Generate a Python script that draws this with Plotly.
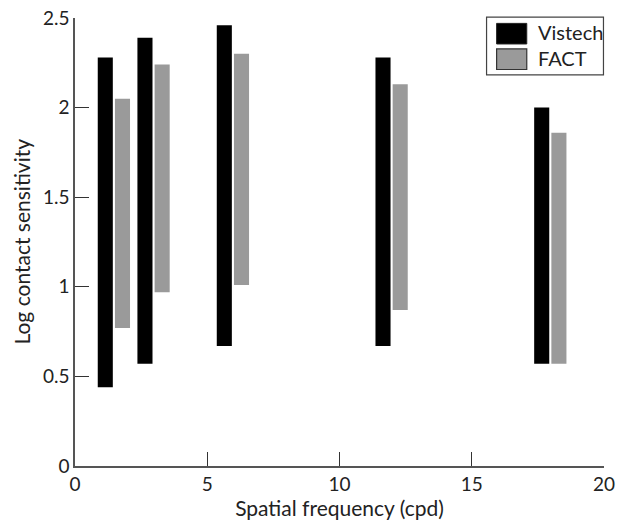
import plotly.graph_objects as go

freq = [1.5, 3, 6, 12, 18]
vistech_low = [0.44, 0.57, 0.67, 0.67, 0.57]
vistech_high = [2.28, 2.39, 2.46, 2.28, 2.00]
fact_low = [0.77, 0.97, 1.01, 0.87, 0.57]
fact_high = [2.05, 2.24, 2.30, 2.13, 1.86]

x_ticks = [0, 5, 10, 15, 20]
y_ticks = [0, 0.5, 1, 1.5, 2, 2.5]
y_tick_labels = ["0", "0.5", "1", "1.5", "2", "2.5"]

series_names = ["Vistech", "FACT"]
series_colors = ["black", "#9a9a9a"]

FONT = "Lato, DejaVu Sans, sans-serif"

fig = go.Figure()
fig.add_trace(go.Bar(
    name=series_names[0], x=freq,
    y=[h - l for h, l in zip(vistech_high, vistech_low)],
    base=vistech_low, width=0.57, offset=-0.64,
    marker=dict(color=series_colors[0], line=dict(width=0)),
    showlegend=False,
))
fig.add_trace(go.Bar(
    name=series_names[1], x=freq,
    y=[h - l for h, l in zip(fact_high, fact_low)],
    base=fact_low, width=0.57, offset=0.01,
    marker=dict(color=series_colors[1], line=dict(width=0)),
    showlegend=False,
))

# custom legend (large swatches like the reference)
shapes = [
    dict(type="rect", xref="paper", yref="paper", x0=0.778, x1=0.999,
         y0=0.873, y1=1.002, line=dict(color="#444", width=1.2),
         fillcolor="white", layer="above"),
    dict(type="rect", xref="paper", yref="paper", x0=0.797, x1=0.854,
         y0=0.942, y1=0.988, line=dict(color="#222", width=1),
         fillcolor=series_colors[0], layer="above"),
    dict(type="rect", xref="paper", yref="paper", x0=0.797, x1=0.854,
         y0=0.885, y1=0.931, line=dict(color="#333", width=1.2),
         fillcolor=series_colors[1], layer="above"),
]
annotations = [
    dict(text=series_names[0], xref="paper", yref="paper", x=0.872, y=0.968,
         xanchor="left", yanchor="middle", showarrow=False,
         font=dict(size=20, color="#222")),
    dict(text=series_names[1], xref="paper", yref="paper", x=0.872, y=0.910,
         xanchor="left", yanchor="middle", showarrow=False,
         font=dict(size=20, color="#222")),
    dict(text="Log contact sensitivity", xref="paper", yref="paper",
         x=-0.103, y=0.5, xanchor="center", yanchor="middle",
         textangle=-90, showarrow=False, font=dict(size=21, color="#222")),
]

fig.update_layout(
    width=617, height=522,
    margin=dict(l=74.5, r=12.5, t=18, b=56),
    plot_bgcolor="white", paper_bgcolor="white",
    font=dict(family=FONT, size=19, color="#222"),
    barmode="overlay",
    showlegend=False,
    shapes=shapes,
    annotations=annotations,
    xaxis=dict(
        range=[0, 20], tickvals=x_ticks, ticks="inside", ticklen=14,
        tickcolor="#333", tickwidth=1.2, showline=True, linecolor="#555",
        linewidth=1.5, showgrid=False, zeroline=False, automargin=False,
        title=dict(text="Spatial frequency (cpd)", standoff=6, font=dict(size=21)),
        tickfont=dict(size=19),
    ),
    yaxis=dict(
        range=[0, 2.5], tickvals=y_ticks, ticktext=y_tick_labels,
        ticks="inside", ticklen=14, tickcolor="#333", tickwidth=1.2,
        showline=True, linecolor="#555", linewidth=1.5,
        showgrid=False, zeroline=False, automargin=False,
        tickfont=dict(size=19),
    ),
)

fig.write_html("out.html", config={"displayModeBar": False},
               post_script="document.body.style.margin='0';")
